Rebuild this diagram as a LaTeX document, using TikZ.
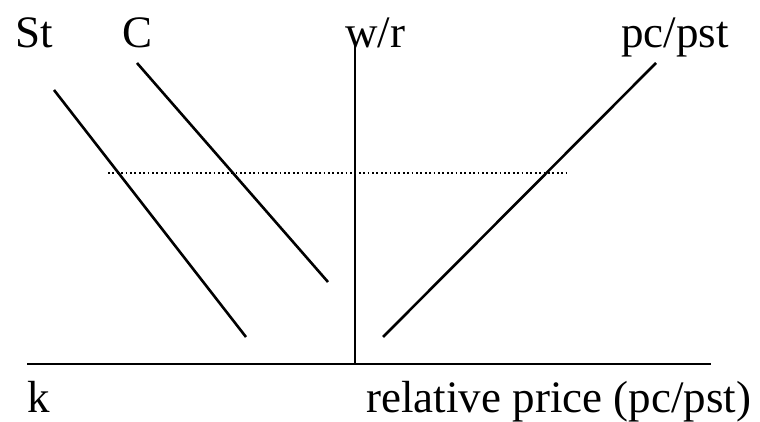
\documentclass[tikz,border=0pt]{standalone}
\usepackage{fontspec}
\setmainfont{Liberation Serif}
\usetikzlibrary{positioning}

\tikzset{
  axisline/.style={black, line width=1.4pt},
  curveline/.style={black, line width=1.3pt},
  levelline/.style={black, line width=0.9pt, dash pattern=on 0.9pt off 1.3pt},
  lbl/.style={inner sep=0pt, anchor=base west, font=\fontsize{22.5}{27}\selectfont}
}

\begin{document}
\begin{tikzpicture}[x=0.5pt, y=-0.5pt]
    \useasboundingbox (0,0) rectangle (760,422);
    % axes
    \coordinate (origin) at (355,364);
    \coordinate (xleft) at (27,364);
    \coordinate (xright) at (711,364);
    \coordinate (ytop) at (355,43);
    \draw[axisline] (xleft) -- (xright);
    \draw[axisline] (origin) -- (ytop);
    % schedules
    \coordinate (sttop) at (54,90);
    \coordinate (stbot) at (246,337);
    \coordinate (ctop) at (137,63);
    \coordinate (cbot) at (328,282);
    \coordinate (ptop) at (656,63);
    \coordinate (pbot) at (383,337);
    \draw[curveline] (sttop) -- (stbot);
    \draw[curveline] (ctop) -- (cbot);
    \draw[curveline] (pbot) -- (ptop);
    % given w/r
    \coordinate (wl) at (108,173);
    \coordinate (wr) at (569,173);
    \draw[levelline] (wl) -- (wr);
    % labels
    \node[lbl] (st) at (15,48) {St};
    \node[lbl] (c) at (122,48) {C};
    \node[lbl] (wage) at (345,48) {w/r};
    \node[lbl] (pp) at (621,48) {pc/pst};
    \node[lbl] (k) at (27,412) {k};
    \node[lbl] (relp) at (366,412) {relative price (pc/pst)};
\end{tikzpicture}
\end{document}
